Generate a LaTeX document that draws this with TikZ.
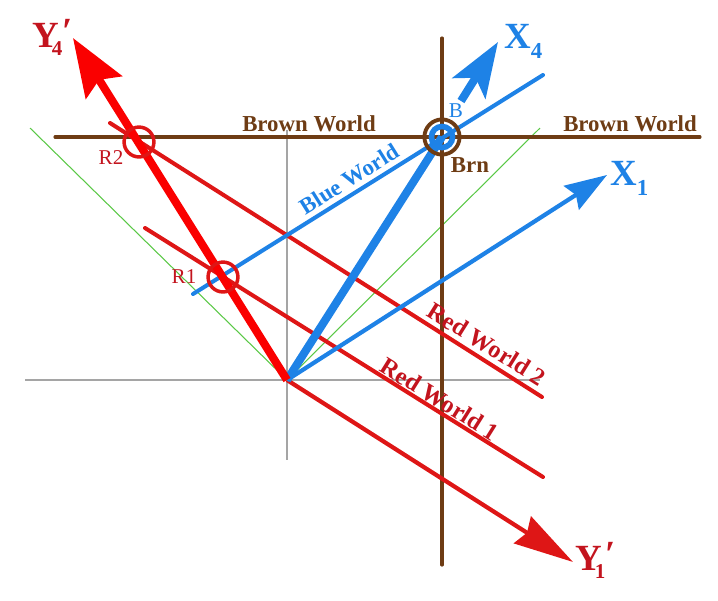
\documentclass[tikz,border=0pt]{standalone}
\usepackage{fontspec}
\setmainfont{Liberation Serif}
\usetikzlibrary{arrows.meta}
\definecolor{BrownW}{RGB}{110,60,20}
\definecolor{BlueW}{RGB}{30,130,230}
\definecolor{RedW}{RGB}{222,22,22}
\definecolor{RedAx}{RGB}{250,0,0}
\definecolor{RedLbl}{RGB}{195,20,30}
\definecolor{GreenC}{RGB}{90,200,70}
\definecolor{GrayAx}{RGB}{165,165,165}

% Y with prime and subscript, X with subscript
\newcommand{\primesub}[2]{#1\kern-4pt\rlap{\raisebox{-5pt}{\fontsize{12}{12}\selectfont #2}}\kern6pt\raisebox{2pt}{′}}
\newcommand{\plainsub}[2]{#1\raisebox{-6pt}{\fontsize{13}{13}\selectfont #2}}

\begin{document}
\begin{tikzpicture}[x=0.02cm,y=-0.02cm,
  axis/.style={draw=GrayAx,line width=0.6pt},
  cone/.style={draw=GreenC,line width=0.6pt},
  brownline/.style={draw=BrownW,line width=1.8pt,line cap=round},
  redworld/.style={draw=RedW,line width=2.3pt,line cap=round},
  blueworld/.style={draw=BlueW,line width=2.3pt,line cap=round},
  ring/.style={circle,draw,line width=2pt,inner sep=0pt,minimum size=#1},
  worldlbl/.style={font=\bfseries\fontsize{13}{13}\selectfont,inner sep=0pt},
  axlbl/.style={font=\bfseries\fontsize{21}{21}\selectfont,inner sep=0pt,anchor=base west},
  ptlbl/.style={font=\fontsize{12}{12}\selectfont,inner sep=0pt}
]
  \useasboundingbox (0,0) rectangle (718,600);

  \coordinate (O) at (287,380);
  \coordinate (R1) at (223,277);
  \coordinate (R2) at (139,142);
  \coordinate (B) at (442,137);

  % gray axes and green light cone
  \coordinate (gxl) at (25,380);
  \coordinate (gxr) at (540,380);
  \coordinate (gyt) at (287,130);
  \coordinate (gyb) at (287,460);
  \draw[axis] (gxl) -- (gxr);
  \draw[axis] (gyt) -- (gyb);
  \coordinate (cl) at (30,128);
  \coordinate (cr) at (540,128);
  \draw[cone] (cl) -- (O) -- (cr);

  % brown world
  \coordinate (bwl) at (55,137);
  \coordinate (bwr) at (700,137);
  \coordinate (bvt) at (442,38);
  \coordinate (bvb) at (442,565);
  \draw[brownline] (bwl) -- (bwr);
  \draw[brownline] (bvt) -- (bvb);

  % red worlds
  \coordinate (rw1a) at (145,228);
  \coordinate (rw1b) at (543,477);
  \coordinate (rw2a) at (110,123);
  \coordinate (rw2b) at (542,397);
  \draw[redworld] (rw1a) -- (rw1b);
  \draw[redworld] (rw2a) -- (rw2b);

  % blue world
  \coordinate (bla) at (193,294);
  \coordinate (blb) at (543,75);
  \draw[blueworld] (bla) -- (blb);

  % axes of the frames
  \coordinate (y1tip) at (573,562);
  \coordinate (x1tip) at (607,175);
  \coordinate (x4tip) at (498,42);
  \coordinate (x4stub) at (461,101);
  \coordinate (y4tip) at (73,38);
  \draw[RedW,line width=2.4pt,-{Stealth[length=34pt,width=18pt,inset=3pt]}] (O) -- (y1tip);
  \draw[BlueW,line width=2.4pt,-{Stealth[length=24pt,width=16pt,inset=3pt]}] (O) -- (x1tip);
  \draw[BlueW,line width=4.6pt] (O) -- (B);
  \draw[BlueW,line width=4.6pt,-{Stealth[length=31pt,width=22pt,inset=7pt]}] (x4stub) -- (x4tip);
  \draw[RedAx,line width=4.6pt,-{Stealth[length=33pt,width=24pt,inset=5pt]}] (O) -- (y4tip);

  % event rings
  \node[ring=17pt,draw=RedW] (ringR1) at (R1) {};
  \node[ring=17pt,draw=RedW] (ringR2) at (R2) {};
  \node[ring=12pt,draw=BlueW,line width=3.2pt] (ringB) at (B) {};
  \node[ring=20pt,draw=BrownW,line width=2.2pt] (ringBrn) at (B) {};

  % labels
  \node[axlbl,text=RedLbl] (lY4) at (32,47) {\primesub{Y}{4}};
  \node[axlbl,text=BlueW] (lX4) at (504,48) {\plainsub{X}{4}};
  \node[axlbl,text=BlueW] (lX1) at (610,185) {\plainsub{X}{1}};
  \node[axlbl,text=RedLbl] (lY1) at (575,570) {\primesub{Y}{1}};

  \node[worldlbl,text=BrownW] (brw1) at (309,124) {Brown World};
  \node[worldlbl,text=BrownW] (brw2) at (630,124) {Brown World};
  \node[worldlbl,text=BlueW,rotate=32] (blw) at (349,179) {Blue World};
  \node[worldlbl,text=RedLbl,rotate=-32,font=\bfseries\fontsize{14}{14}\selectfont] (rdw2) at (487,344) {Red World 2};
  \node[worldlbl,text=RedLbl,rotate=-32,font=\bfseries\fontsize{14}{14}\selectfont] (rdw1) at (440,399) {Red World 1};

  \node[ptlbl,text=RedLbl] (lR1) at (184,277) {R1};
  \node[ptlbl,text=RedLbl] (lR2) at (111,158) {R2};
  \node[ptlbl,text=BlueW] (lB) at (456,111) {B};
  \node[worldlbl,text=BrownW] (lBrn) at (470,165) {Brn};
\end{tikzpicture}
\end{document}
